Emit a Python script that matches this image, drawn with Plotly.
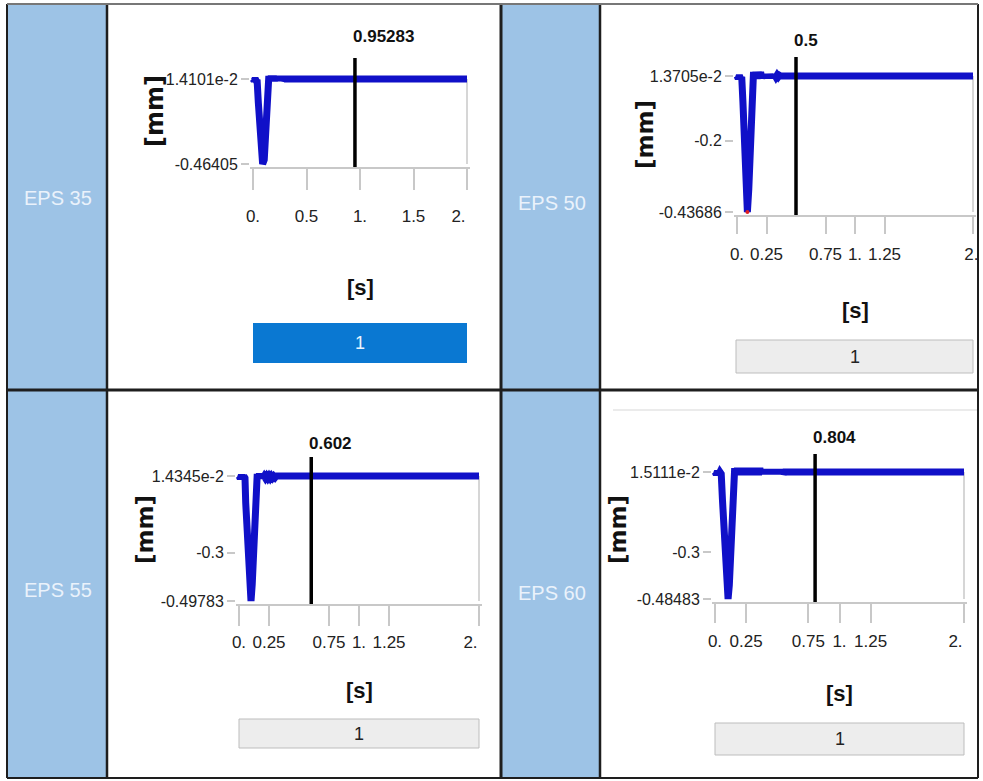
import plotly.graph_objects as go

W, H = 983, 781
FONT = "Liberation Sans, Arial, sans-serif"
BOLDFONT = "DejaVu Sans, Open Sans, sans-serif"
BLUE = "#1010C8"
GRID = "#C8C8C8"
LABEL_BG = "#9DC3E6"
LABEL_FG = "#EAF2FB"
BORDER = "#1E1E1E"

# ---------------- data ----------------
panel_names = ["EPS 35", "EPS 50", "EPS 55", "EPS 60"]
cursor_values = [0.95283, 0.5, 0.602, 0.804]
cursor_labels = ["0.95283", "0.5", "0.602", "0.804"]
y_max = [0.014101, 0.013705, 0.014345, 0.015111]
y_min = [-0.46405, -0.43686, -0.49783, -0.48483]

y_tickvals = [
    [-0.46405, 0.014101],
    [-0.43686, -0.2, 0.013705],
    [-0.49783, -0.3, 0.014345],
    [-0.48483, -0.3, 0.015111],
]
y_ticktext = [
    ["-0.46405", "1.4101e-2"],
    ["-0.43686", "-0.2", "1.3705e-2"],
    ["-0.49783", "-0.3", "1.4345e-2"],
    ["-0.48483", "-0.3", "1.5111e-2"],
]
x_tickvals = [
    [0, 0.5, 1, 1.5, 2],
    [0, 0.25, 0.75, 1, 1.25, 2],
    [0, 0.25, 0.75, 1, 1.25, 2],
    [0, 0.25, 0.75, 1, 1.25, 2],
]
x_ticktext = [
    ["0.", "0.5", "1.", "1.5", "2.\u2003"],
    ["0.", "0.25", "0.75", "1.", "1.25", "2.\u2009"],
    ["0.", "0.25", "0.75", "1.", "1.25", "2.\u2003"],
    ["0.", "0.25", "0.75", "1.", "1.25", "2.\u2003"],
]
y_title = "[mm]"

t35 = [0.000, 0.010, 0.020, 0.030, 0.038, 0.050, 0.065, 0.080, 0.090, 0.105, 0.120, 0.135, 0.148,
       0.160, 0.170, 0.180, 0.190, 0.200, 0.210, 0.220, 0.230, 0.240, 0.250, 0.260, 0.270, 0.280,
       0.290, 2.000]
d35 = [0.0141, 0.0040, 0.0160, 0.0040, 0.0100, -0.1200, -0.2800, -0.4200, -0.46405, -0.4400,
       -0.3000, -0.1400, 0.0310,
       0.0030, 0.0310, 0.0030, 0.0310, 0.0030, 0.0300, 0.0040, 0.0300, 0.0040, 0.0290, 0.0050,
       0.0280, 0.0060, 0.0141, 0.014101]

t50 = [0.000, 0.010, 0.020, 0.030, 0.040, 0.050, 0.062, 0.075, 0.088, 0.100, 0.115, 0.130, 0.140,
       0.150, 0.160, 0.170, 0.180, 0.190, 0.200, 0.210, 0.220, 0.230, 0.240, 0.250, 0.260, 0.270,
       0.280, 0.290, 0.300, 0.310, 0.320, 0.330, 0.340, 0.350, 0.360, 0.370, 2.000]
d50 = [0.0137, 0.0050, 0.0160, 0.0050, 0.0110, -0.0700, -0.1700, -0.3300, -0.43686, -0.3600,
       -0.2200, -0.0700, 0.0270,
       0.0050, 0.0270, 0.0050, 0.0270, 0.0060, 0.0260, 0.0070, 0.0180, 0.0080, 0.0180, 0.0080,
       0.0180, 0.0080, 0.0180, 0.0090, 0.0175, 0.0090, 0.0170, 0.0100, 0.0165, 0.0110, 0.0160,
       0.0137, 0.013705]

t55 = [0.000, 0.010, 0.020, 0.030, 0.040, 0.050, 0.056, 0.070, 0.085, 0.100, 0.110, 0.125, 0.140,
       0.152, 0.160, 0.170, 0.180, 0.190, 0.200, 0.210, 0.220, 0.230, 0.240, 0.250, 0.260, 0.270,
       0.280, 0.290, 0.300, 0.310, 2.000]
d55 = [0.0143, 0.0040, 0.0170, 0.0040, 0.0143, 0.0060, -0.0960, -0.2500, -0.4100, -0.49783,
       -0.4300, -0.3000, -0.1200, 0.0225,
       0.0050, 0.0225, 0.0050, 0.0220, 0.0060, 0.0140, 0.0060, 0.0140, 0.0060, 0.0140, 0.0060,
       0.0140, 0.0070, 0.0135, 0.0080, 0.0143, 0.014345]

t60 = [0.000, 0.010, 0.020, 0.030, 0.040, 0.050, 0.060, 0.075, 0.090, 0.105, 0.115, 0.130, 0.145,
       0.158, 0.170, 0.180, 0.190, 0.200, 0.210, 0.220, 0.230, 0.240, 0.250, 0.260, 0.270, 0.280,
       0.290, 0.300, 0.310, 0.320, 0.330, 0.340, 0.350, 0.360, 0.370, 0.380, 0.390, 0.400, 0.410,
       0.420, 0.430, 0.440, 0.450, 0.460, 0.470, 0.480, 0.490, 0.500, 0.510, 0.520, 0.530, 0.540,
       0.550, 0.560, 2.000]
d60 = [0.0151, 0.0050, 0.0180, 0.0050, 0.0151, 0.0080, -0.0950, -0.2600, -0.4000, -0.48483,
       -0.4300, -0.3000, -0.1300, 0.0300,
       0.0040, 0.0300, 0.0040, 0.0300, 0.0040, 0.0300, 0.0040, 0.0300, 0.0040, 0.0300, 0.0040,
       0.0300, 0.0040, 0.0300, 0.0040, 0.0300, 0.0040, 0.0300, 0.0040, 0.0300,
       0.0080, 0.0240, 0.0080, 0.0240, 0.0080, 0.0240, 0.0080, 0.0240, 0.0080, 0.0240, 0.0080,
       0.0240, 0.0080, 0.0240, 0.0080, 0.0240, 0.0080, 0.0240, 0.0080,
       0.0151, 0.015111]

series_t = [t35, t50, t55, t60]
series_d = [d35, d50, d55, d60]

# ---------------- layout geometry (pixels) ----------------
panels = [
    dict(x0=253, x1=467, ytop=79, ybot=164, line_top=58, label_y=36, s_y=287,
         btn=(253, 467, 323, 363), btn_blue=True, mm=(155, 111), mm_size=24,
         cell=(107, 501), row=(4, 390), lab=(58, 198), ticklen=21, standoff=12),
    dict(x0=737, x1=973, ytop=76, ybot=212, line_top=57, label_y=40, s_y=310,
         btn=(736, 973, 340, 373), btn_blue=False, mm=(645, 135), mm_size=23,
         cell=(600, 978), row=(4, 390), lab=(552, 203), ticklen=17, standoff=6),
    dict(x0=239, x1=479, ytop=476, ybot=601, line_top=457, label_y=443, s_y=690,
         btn=(239, 479, 719, 748), btn_blue=False, mm=(145, 530), mm_size=23,
         cell=(107, 501), row=(390, 778), lab=(58, 590), ticklen=20, standoff=2),
    dict(x0=715, x1=964, ytop=472, ybot=599, line_top=454, label_y=437, s_y=693,
         btn=(715, 964, 723, 755), btn_blue=False, mm=(618, 530), mm_size=23,
         cell=(600, 978), row=(390, 778), lab=(552, 593), ticklen=19, standoff=4),
]


def px(x):
    return x / W


def py(y):
    return 1 - y / H


fig = go.Figure()
layout = dict(
    width=W, height=H, margin=dict(l=0, r=0, t=0, b=0, autoexpand=False),
    paper_bgcolor="white", plot_bgcolor="white", showlegend=False,
)
shapes = []
annotations = []

# label columns backgrounds
for p in panels:
    lx0 = 8 if p["cell"][0] == 107 else 502
    shapes.append(dict(type="rect", xref="paper", yref="paper",
                       x0=px(lx0), x1=px(p["cell"][0]), y0=py(p["row"][1]), y1=py(p["row"][0]),
                       fillcolor=LABEL_BG, line=dict(width=0), layer="below"))

for i, p in enumerate(panels):
    sfx = "" if i == 0 else str(i + 1)
    ymx, ymn = y_max[i], y_min[i]
    xs = (p["x1"] - p["x0"]) / 2.0
    ys = (p["ybot"] - p["ytop"]) / (ymx - ymn)
    dom_top = p["line_top"]
    dom_bot = p["ybot"] + 3
    yr = [ymn - 3 / ys, ymx + (p["ytop"] - dom_top) / ys]
    xr = [-3 / xs, 2 + 3 / xs]
    tv, tt = x_tickvals[i], x_ticktext[i]

    # right frame line of the plot area (at the last x tick)
    fig.add_trace(go.Scatter(x=[tv[-1], tv[-1]], y=[ymn, ymx], mode="lines",
                             line=dict(color=GRID, width=1.5),
                             xaxis="x" + sfx, yaxis="y" + sfx, hoverinfo="skip"))
    fig.add_trace(go.Scatter(x=series_t[i], y=series_d[i], mode="lines",
                             line=dict(color=BLUE, width=7),
                             xaxis="x" + sfx, yaxis="y" + sfx, hoverinfo="skip"))
    fig.add_trace(go.Scatter(x=[cursor_values[i], cursor_values[i]], y=yr, mode="lines",
                             line=dict(color="black", width=3.5),
                             xaxis="x" + sfx, yaxis="y" + sfx, hoverinfo="skip"))
    if i == 1:
        imin = series_d[i].index(ymn)
        fig.add_trace(go.Scatter(x=[series_t[i][imin]], y=[ymn], mode="markers",
                                 marker=dict(color="#E02020", size=4),
                                 xaxis="x" + sfx, yaxis="y" + sfx, hoverinfo="skip"))

    layout["xaxis" + sfx] = dict(
        domain=[px(p["x0"] - 3), px(p["x1"] + 3)], range=xr, anchor="y" + sfx,
        tickvals=tv, ticktext=tt, ticks="outside", ticklen=p["ticklen"],
        ticklabelstandoff=p["standoff"], tickangle=0, automargin=False,
        ticklabeloverflow="allow",
        tickcolor=GRID, tickwidth=1.5, showline=True, linecolor=GRID, linewidth=1.5,
        showgrid=False, zeroline=False, fixedrange=True,
        tickfont=dict(family=FONT, size=17, color="#222222"),
    )
    layout["yaxis" + sfx] = dict(
        domain=[py(dom_bot), py(dom_top)], range=yr, anchor="x" + sfx,
        tickvals=y_tickvals[i], ticktext=y_ticktext[i], ticks="outside", ticklen=8,
        tickangle=0, automargin=False, ticklabeloverflow="allow",
        tickcolor=GRID, tickwidth=1.5, showline=False, showgrid=False, zeroline=False,
        fixedrange=True, tickfont=dict(family=FONT, size=16, color="#222222"),
    )

    # cursor label
    annotations.append(dict(x=cursor_values[i], xref="x" + sfx, y=py(p["label_y"]), yref="paper",
                            text="<b>" + cursor_labels[i] + "</b>", showarrow=False,
                            xanchor="left", yanchor="middle", xshift=-4,
                            font=dict(family=FONT, size=17, color="#111111")))
    # axis titles
    annotations.append(dict(x=px(p["mm"][0]), y=py(p["mm"][1]), xref="paper", yref="paper",
                            text="<b>" + y_title + "</b>", textangle=-90, showarrow=False,
                            xanchor="center", yanchor="middle",
                            font=dict(family=BOLDFONT, size=p["mm_size"], color="#111111")))
    annotations.append(dict(x=px((p["x0"] + p["x1"]) / 2), y=py(p["s_y"]), xref="paper", yref="paper",
                            text="<b>[s]</b>", showarrow=False, xanchor="center", yanchor="middle",
                            font=dict(family=FONT, size=22, color="#111111")))
    # label column text
    annotations.append(dict(x=px(p["lab"][0]), y=py(p["lab"][1]), xref="paper", yref="paper",
                            text=panel_names[i], showarrow=False, xanchor="center", yanchor="middle",
                            font=dict(family=FONT, size=20, color=LABEL_FG)))
    # button
    bx0, bx1, by0, by1 = p["btn"]
    if p["btn_blue"]:
        shapes.append(dict(type="rect", xref="paper", yref="paper", x0=px(bx0), x1=px(bx1),
                           y0=py(by1), y1=py(by0), fillcolor="#0A78D2", line=dict(width=0)))
        bcol = "#EAF4FF"
    else:
        shapes.append(dict(type="rect", xref="paper", yref="paper", x0=px(bx0), x1=px(bx1),
                           y0=py(by1), y1=py(by0), fillcolor="#EDEDED",
                           line=dict(color="#BDBDBD", width=1)))
        bcol = "#222222"
    annotations.append(dict(x=px((bx0 + bx1) / 2), y=py((by0 + by1) / 2), xref="paper", yref="paper",
                            text="1", showarrow=False, xanchor="center", yanchor="middle",
                            font=dict(family=FONT, size=18, color=bcol)))

# faint rule at top of the EPS 60 cell
shapes.append(dict(type="line", xref="paper", yref="paper", x0=px(613), x1=px(978),
                   y0=py(410), y1=py(410), line=dict(color="#E4E4E4", width=1.5)))

# table borders
for x, w in [(7, 2), (107, 2.5), (501, 3), (600, 2.5), (978, 2)]:
    shapes.append(dict(type="line", xref="paper", yref="paper", x0=px(x), x1=px(x),
                       y0=py(778), y1=py(4), line=dict(color=BORDER, width=w)))
for y, w, c in [(4, 2, "#777777"), (390, 3, BORDER), (778, 2, BORDER)]:
    shapes.append(dict(type="line", xref="paper", yref="paper", x0=px(7), x1=px(978),
                       y0=py(y), y1=py(y), line=dict(color=c, width=w)))

layout["shapes"] = shapes
layout["annotations"] = annotations
fig.update_layout(**layout)

fig.write_html("out.html", config={"displayModeBar": False},
               post_script="document.body.style.margin='0';document.body.style.overflow='hidden';")
